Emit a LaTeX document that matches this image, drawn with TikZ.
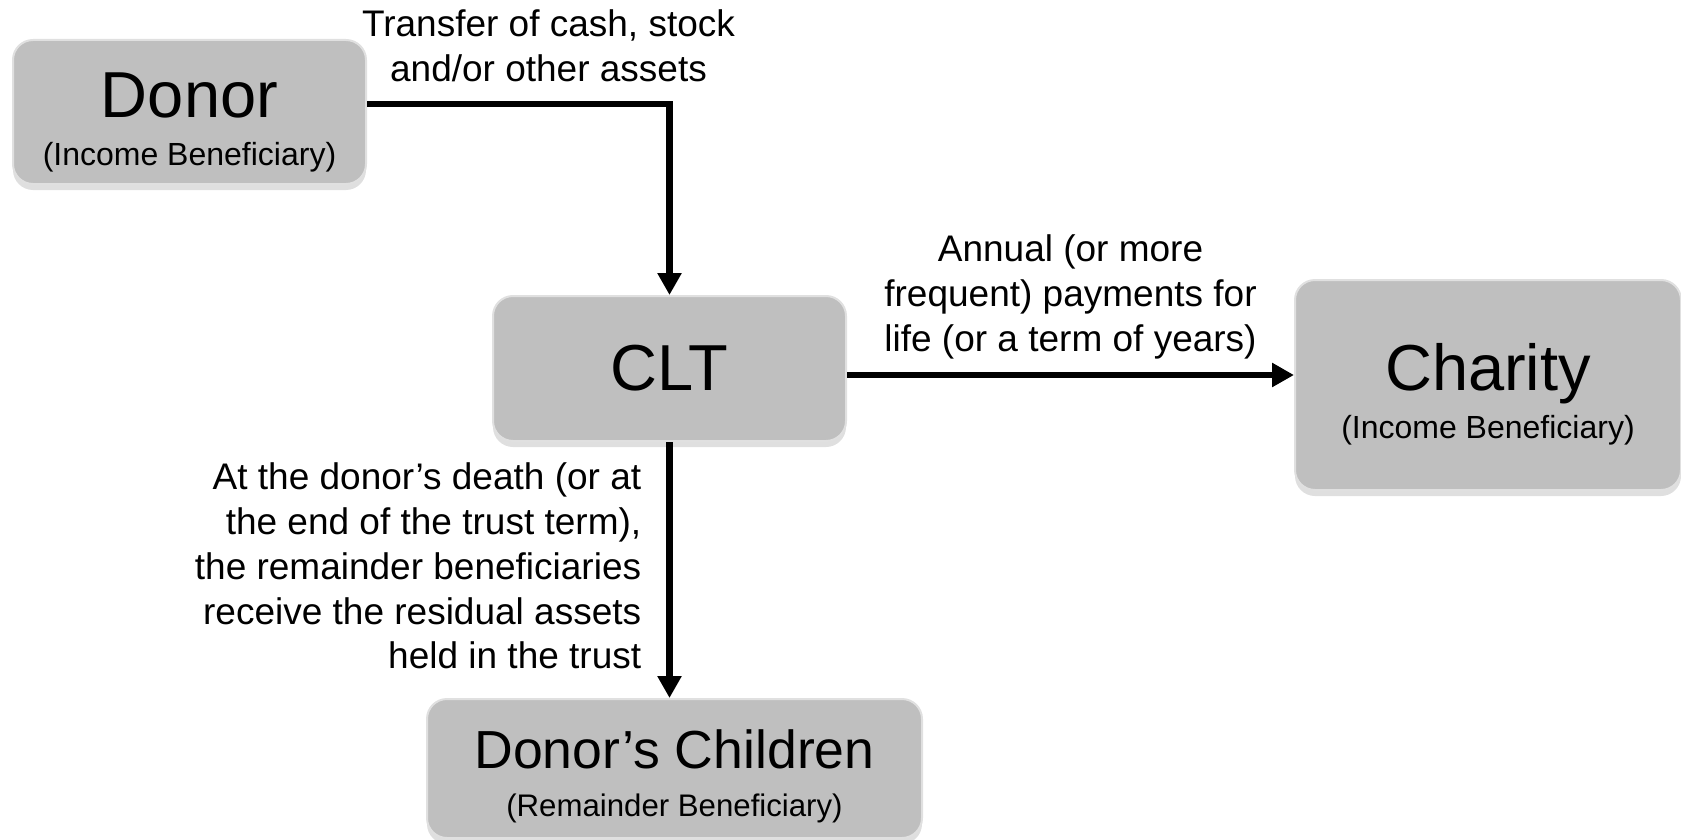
\documentclass[tikz,border=0pt]{standalone}
\usepackage{fontspec}
\setmainfont{Liberation Sans}
\usepackage{tikz}
\usetikzlibrary{arrows.meta, positioning, shadows}

\newcommand{\partytext}[2]{\rule{0pt}{1em}#1\\{\fontsize{16}{24}\selectfont #2}}

\begin{document}
\begin{tikzpicture}[x=0.5pt, y=-0.5pt,
    party/.style={rectangle, rounded corners=10pt, draw=black!12, line width=1pt,
        fill=black!25,
        drop shadow={shadow xshift=0pt, shadow yshift=-3pt, opacity=0.25},
        align=center, inner sep=0pt, font=\fontsize{32.5}{24}\selectfont},
    flow/.style={line width=3.3pt, -{Triangle[length=11pt, width=11.5pt]}},
    note/.style={align=center, inner sep=0pt, font=\fontsize{18.5}{22.4}\selectfont}]
    \useasboundingbox (0,0) rectangle (1681,840);

    \node [party, minimum width=176.5pt, minimum height=72pt] (donor) at (189.5,112) {\partytext{Donor}{(Income Beneficiary)}};
    \node [party, minimum width=176.5pt, minimum height=72.5pt] (clt) at (669.5,368.5) {CLT};
    \node [party, minimum width=193pt, minimum height=105pt, right=223.5pt of clt, yshift=-8.25pt] (charity) {\partytext{Charity}{(Income Beneficiary)}};
    \node [party, minimum width=247.5pt, minimum height=69.5pt, below=128pt of clt, xshift=2.5pt, font=\fontsize{26.8}{24}\selectfont] (kids) {\partytext{Donor’s Children}{\fontsize{15.6}{24}\selectfont(Remainder Beneficiary)}};

    \coordinate (give) at ([yshift=4pt]donor.east);
    \coordinate (pay) at ([yshift=-3.25pt]clt.east);

    \draw[flow] (give) -| node[note, pos=0.3, above=9.5pt] (transfer) {Transfer of cash, stock\\and/or other assets} (clt.north);
    \draw[flow] (pay) -- node[note, above=6.3pt] (annual) {Annual (or more\\frequent) payments for\\life (or a term of years)} (pay -| charity.west);
    \draw[flow] (clt) -- node[note, align=right, left=12.5pt, yshift=2pt] (remainder) {At the donor’s death (or at\\the end of the trust term),\\the remainder beneficiaries\\receive the residual assets\\held in the trust} (kids.north -| clt);
\end{tikzpicture}
\end{document}
